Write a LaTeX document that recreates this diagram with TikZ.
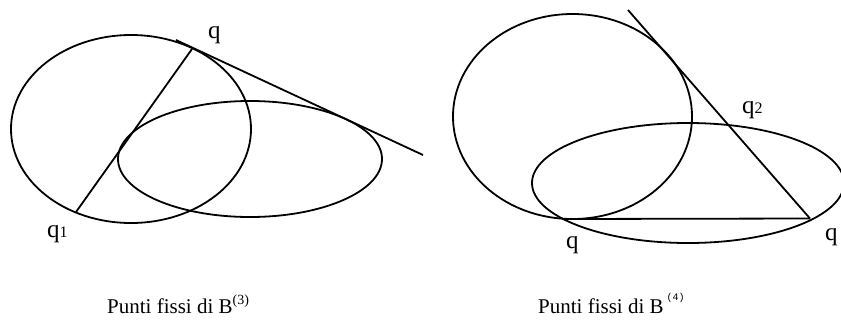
\documentclass[tikz,border=0pt]{standalone}
\usepackage{fontspec}
\setmainfont{Liberation Serif}
\newfontfamily\capmono{Liberation Mono}
\begin{document}
\begin{tikzpicture}[x=1pt,y=-1pt,
  curve/.style={line width=1.8pt, line join=round},
  lbl/.style={font=\fontsize{25}{25}\selectfont, inner sep=0pt, anchor=base west},
  capt/.style={font=\fontsize{21}{21}\selectfont, inner sep=0pt, anchor=base west}]
\useasboundingbox (0,0) rectangle (841,330);
% ---------- left figure ----------
\draw[curve] (131,129) ellipse [x radius=120, y radius=94];
\draw[curve] (250,159) ellipse [x radius=132, y radius=58];
\coordinate (tA) at (176,40);
\coordinate (tB) at (423,155);
\coordinate (cq) at (192,49);
\coordinate (cq1) at (76,212);
\draw[curve] (tA) -- (tB);
\draw[curve] (cq) -- (cq1);
\node[lbl] (lq) at (208,38) {q};
\node[lbl] (lq1) at (47,237) {q{\fontsize{16}{16}\selectfont 1}};
\node[capt] (cap3) at (107,313) {Punti fissi di B\raisebox{9pt}{\fontsize{14}{14}\selectfont(3)}};
% ---------- right figure ----------
\draw[curve] (572.5,116.5) ellipse [x radius=119.5, y radius=102.5];
\draw[curve] (688,183) ellipse [x radius=156, y radius=60];
\coordinate (sA) at (628,10);
\coordinate (rq) at (810,218.5);
\coordinate (bq) at (565,219);
\draw[curve] (sA) -- (rq);
\draw[curve] (bq) -- (rq);
\node[lbl] (rq2) at (742,113) {q{\fontsize{16}{16}\selectfont 2}};
\node[lbl] (rbq) at (566,248) {q};
\node[lbl] (rrq) at (825,240) {q};
\node[capt] (cap4) at (538,313) {Punti fissi di B\hspace{3pt}\raisebox{13pt}{\capmono\fontsize{10}{10}\selectfont(4)}};
\end{tikzpicture}
\end{document}
